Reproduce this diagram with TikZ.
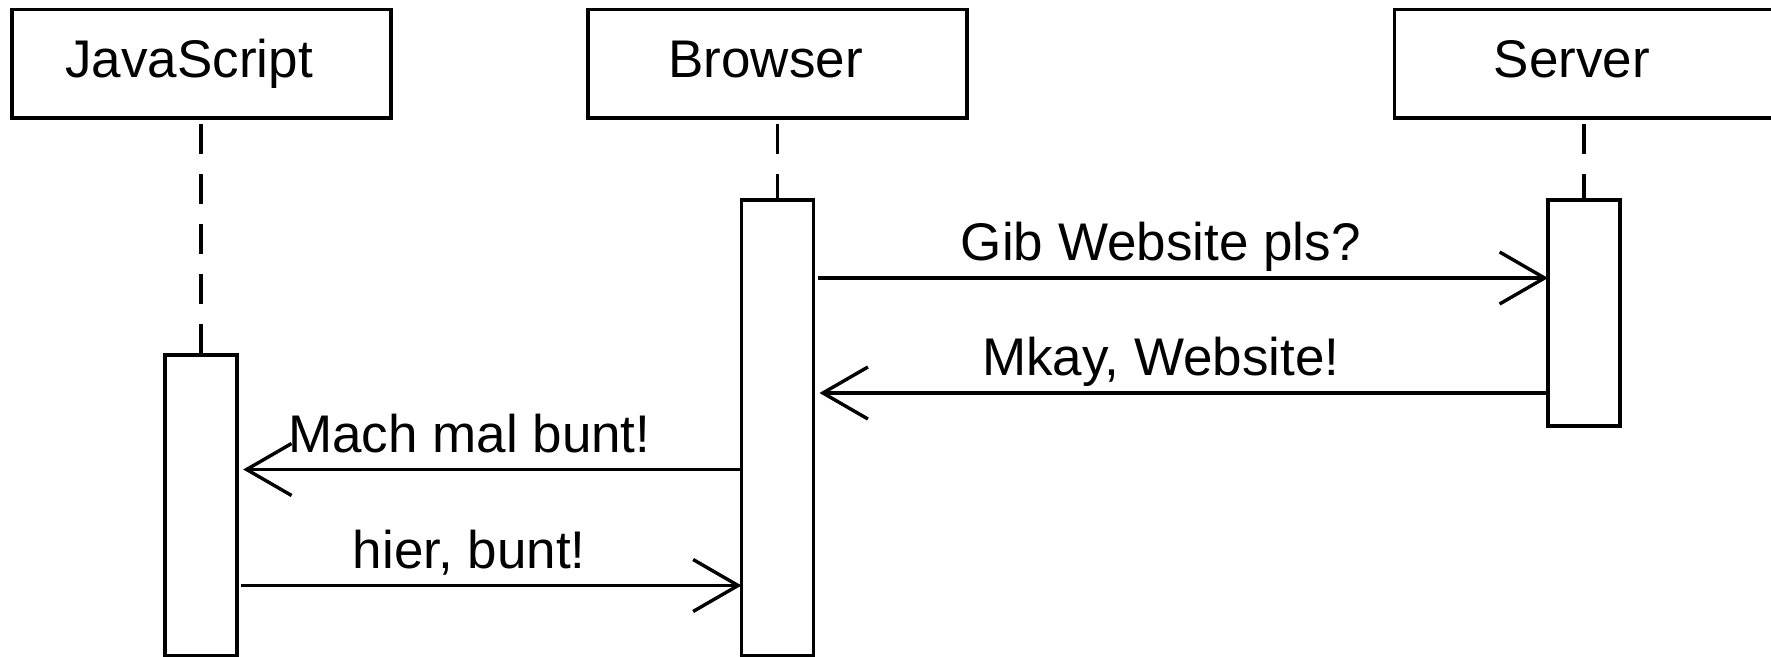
\documentclass[tikz,border=0pt]{standalone}
\usepackage{fontspec}
\setmainfont{Liberation Sans}
\usetikzlibrary{arrows.meta}
\tikzset{
  seqactor/.style={draw=black, line width=1.8pt, fill=white, outer sep=0pt, inner sep=0pt,
                   minimum width=189.5pt, minimum height=54.4pt,
                   text height=19pt, text depth=5.3pt, font=\fontsize{26.5}{32}\selectfont},
  seqact/.style={draw=black, line width=1.8pt, fill=white, outer sep=0pt, inner sep=0pt,
                 minimum width=36pt, anchor=north},
  seqlife/.style={draw=black, line width=1.8pt, dash pattern=on 15pt off 10pt},
  seqmsg/.style={draw=black, line width=1.7pt, -{Straight Barb[length=22.5pt,width=26pt]}},
  seqlabel/.style={anchor=base, yshift=8.5pt, xshift=-10pt, inner sep=0pt,
                   font=\fontsize{26.5}{32}\selectfont},
}
\begin{document}
\begin{tikzpicture}[x=0.5pt,y=-0.5pt]
  \useasboundingbox (0,0) rectangle (1771,657);
  % participants
  \node[seqactor] (js) at (201.2,63.8) {JavaScript\hspace*{12pt}};
  \node[seqactor] (br) at (777.5,63.8) {Browser\hspace*{12pt}};
  \node[seqactor] (sv) at (1584,63.8) {Server\hspace*{12pt}};
  % activation bars
  \node[seqact,minimum height=150.35pt] (jsact) at (201.2,355) {};
  \node[seqact,minimum height=227.85pt] (bract) at (777.5,200) {};
  \node[seqact,minimum height=113pt] (svact) at (1584,200) {};
  % lifelines
  \draw[seqlife] ([yshift=-3pt]js.south) -- (jsact.north);
  \draw[seqlife] ([yshift=-3pt]br.south) -- (bract.north);
  \draw[seqlife] ([yshift=-3pt]sv.south) -- (svact.north);
  % messages
  \coordinate (m1) at (0,278);
  \coordinate (m2) at (0,393);
  \coordinate (m3) at (0,469.5);
  \coordinate (m4) at (0,585.5);
  \draw[seqmsg,shorten <=2pt] (bract.east |- m1) -- (svact.west |- m1)
    node[seqlabel,midway] {Gib Website pls?};
  \draw[seqmsg,shorten >=3pt] (svact.west |- m2) -- (bract.east |- m2)
    node[seqlabel,midway] {Mkay, Website!};
  \draw[seqmsg,shorten >=3pt] (bract.west |- m3) -- (jsact.east |- m3)
    node[seqlabel,midway] {Mach mal bunt!};
  \draw[seqmsg,shorten <=2pt] (jsact.east |- m4) -- (bract.west |- m4)
    node[seqlabel,midway] {hier, bunt!};
\end{tikzpicture}
\end{document}
